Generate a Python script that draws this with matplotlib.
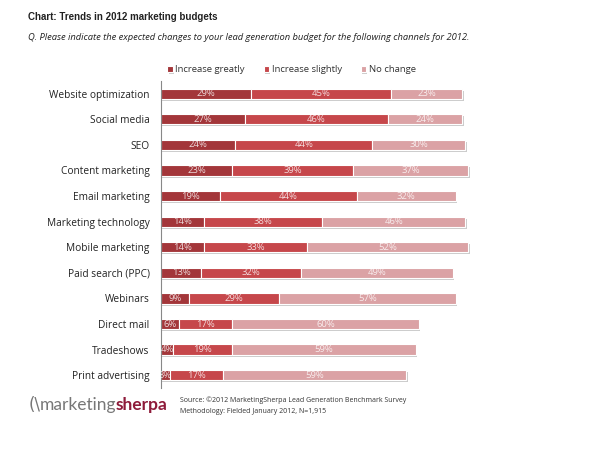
import numpy as np
import matplotlib
matplotlib.use("Agg")
import matplotlib.pyplot as plt
import matplotlib.patheffects as pe

channels = ["Website optimization", "Social media", "SEO", "Content marketing",
            "Email marketing", "Marketing technology", "Mobile marketing",
            "Paid search (PPC)", "Webinars", "Direct mail", "Tradeshows",
            "Print advertising"]
greatly = [29, 27, 24, 23, 19, 14, 14, 13, 9, 6, 4, 3]
slightly = [45, 46, 44, 39, 44, 38, 33, 32, 29, 17, 19, 17]
nochange = [23, 24, 30, 37, 32, 46, 52, 49, 57, 60, 59, 59]
series_names = ["Increase greatly", "Increase slightly", "No change"]
colors = ["#A3363A", "#C6474B", "#DBA2A5"]

plt.rcParams['font.family'] = ['Open Sans', 'DejaVu Sans']

fig = plt.figure(figsize=(6, 4.57), dpi=100)
ax = fig.add_axes([0.268, 0.151, 0.518, 0.672])

y = np.arange(len(channels))
left = np.zeros(len(channels))
shadow = [pe.SimplePatchShadow(offset=(1, -1.5), shadow_rgbFace="#999999", alpha=0.5), pe.Normal()]
for vals, name, col in zip([greatly, slightly, nochange], series_names, colors):
    vals = np.array(vals)
    ax.barh(y, vals, left=left, height=0.4, color=col, edgecolor="white",
            linewidth=0.8, label=name, path_effects=shadow)
    for yi, l, v in zip(y, left, vals):
        ax.text(l + v / 2, yi, f"{v}%", ha="center", va="center", fontsize=6.8,
                color="white", alpha=0.8)
    left = left + vals

ax.set_xlim(0, 100)
ax.set_ylim(len(channels) - 0.5, -0.5)
ax.set_yticks(y)
ax.set_yticklabels(channels, fontsize=7.3, color="#222222")
ax.tick_params(axis="y", length=0, pad=8)
ax.set_xticks([])
for s in ["top", "right", "bottom"]:
    ax.spines[s].set_visible(False)
ax.spines["left"].set_color("#888888")
ax.spines["left"].set_linewidth(0.8)

leg = ax.legend(loc="lower left", bbox_to_anchor=(0.0, 1.0), ncol=3, frameon=False,
                fontsize=6.8, handlelength=0.55, handleheight=0.55, handletextpad=0.3,
                columnspacing=2.0, borderaxespad=0.3)
for t in leg.get_texts():
    t.set_color("#333333")

fig.text(0.046, 0.962, "Chart: Trends in 2012 marketing budgets", fontsize=7,
         fontweight="bold", family="Liberation Sans", color="#222222", va="center")
fig.text(0.046, 0.918, "Q. Please indicate the expected changes to your lead generation "
         "budget for the following channels for 2012.", fontsize=6.75,
         style="italic", color="#222222", va="center")

# logo
fig.text(0.048, 0.113, "(\\", fontsize=12, color="#777777", va="center",
         family="DejaVu Sans")
fig.text(0.066, 0.113, "marketing", fontsize=12.5, color="#777777", va="center",
         family="Lato")
fig.text(0.192, 0.113, "sherpa", fontsize=12.5, color="#8E1B3A", va="center",
         family="Lato", fontweight="bold")
fig.text(0.3, 0.124, "Source: \u00a92012 MarketingSherpa Lead Generation Benchmark Survey",
         fontsize=5, color="#333333", va="center")
fig.text(0.3, 0.1, "Methodology: Fielded January 2012, N=1,915", fontsize=5,
         color="#333333", va="center")

fig.savefig("out.png", dpi=100)
